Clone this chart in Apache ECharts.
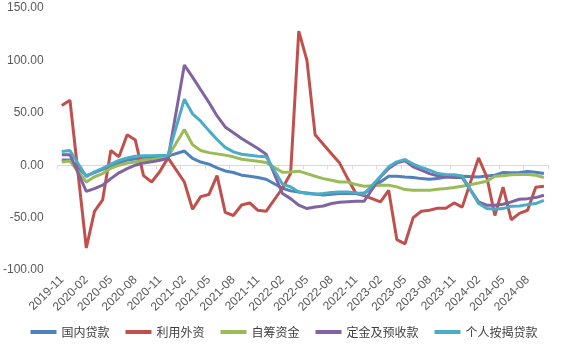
<!DOCTYPE html>
<html>
<head>
<meta charset="utf-8">
<script src="https://cdn.jsdelivr.net/npm/echarts@6/dist/echarts.min.js"></script>
<style>
  html, body { margin: 0; padding: 0; background: #fff; }
  #chart { width: 568px; height: 346px; }
</style>
</head>
<body>
<div id="chart"></div>
<script>
// Monthly categories 2019-11 .. 2024-10 (January is reported together with February, so left empty)
const months = [];
for (let y = 2019, m = 11; months.length < 60; m++) {
  if (m > 12) { m = 1; y++; }
  months.push(y + '-' + String(m).padStart(2, '0'));
}

const domesticLoans = [5, 5, null, -10, -7, -4, -1, 2, 5, 6, 7, 7, 8, 8.6, null, 13.5, 6.5, 3, 1, -2.5, -5.5, -7, -9.5, -10.5, -11.8, -13.4, null, -22, -24.5, -25.5, -26.5, -27.5, -28.5, -27.7, -27, -27, -27, -26.5, null, -16, -10.5, -10.5, -11.2, -11.8, -12.8, -13.4, -12.8, -11.2, -10.5, -10.5, null, -11.2, -10.2, -9.6, -7, -7.3, -7, -6, -6.7, -8];
const foreignCapital = [57, 62, null, -79, -44, -33, 14, 8, 29, 24, -10, -16, -6, 7, null, -16, -42, -30, -28, -10, -45, -48, -38, -36, -43, -44, null, -22, -8, 128, 100, 29, 20, 11, 2, -13, -27, -29, null, -35, -24, -71, -75, -50, -44, -43, -41, -41, -36, -40, null, 7, -11, -48, -21, -52, -46, -43, -21, -20];
const selfRaised = [3, 4, null, -16, -11, -8, -3, 0, 2, 3, 5, 5.5, 6.5, 8, null, 34, 19.5, 14, 12, 10.8, 9.6, 8, 5.7, 4.8, 3.8, 2.6, null, -6.7, -6.4, -5.7, -8, -10.5, -12.8, -14.3, -16, -16, -18.5, -20, null, -19.1, -19.1, -20.7, -23.3, -23.9, -23.9, -23.9, -22.9, -22.3, -21.3, -20, null, -16.9, -15.3, -10.5, -10, -9.2, -8.9, -8.9, -9.6, -11.8];
const deposits = [10, 10, null, -25, -22.3, -19.1, -12.8, -7.3, -3.2, 0, 2.2, 3.2, 4.8, 6.5, null, 95.6, 84, 72, 60, 47, 36.5, 31, 25.5, 20.7, 16, 10.5, null, -27, -31.9, -38.2, -41.4, -39.8, -38.9, -36.6, -35.4, -34.8, -34.4, -34.4, null, -11.2, -3.2, 2.2, 4.1, -1.6, -4.8, -8, -10.2, -11.2, -11.8, -11.8, null, -35, -38.2, -38.2, -37.3, -35, -32.5, -31.9, -30.9, -28.7];
const mortgages = [13, 14, null, -11, -6.4, -3, 1, 4.5, 7, 8.5, 9, 9, 9.3, 9.6, null, 63, 49, 42, 33, 24.5, 17, 12.7, 10.5, 9.6, 8.6, 8, null, -18, -20.7, -25.5, -27, -27.7, -27, -26.1, -25.5, -25.5, -26.5, -27.7, null, -10.5, -1.6, 3.2, 5.4, 1, -2.2, -4.8, -8, -8.9, -9.2, -10.2, null, -36.6, -41.4, -42, -41.4, -39.2, -38.9, -37.6, -36.6, -33.5];

const seriesNames = ['国内贷款', '利用外资', '自筹资金', '定金及预收款', '个人按揭贷款'];
const seriesData = [domesticLoans, foreignCapital, selfRaised, deposits, mortgages];
const colors = ['#4F81BD', '#C0504D', '#9BBB59', '#8064A2', '#4BACC6'];

const yTicks = { min: -100, max: 150, interval: 50 };

const labelFont = 'Liberation Sans, Arial, sans-serif';
const chart = echarts.init(document.getElementById('chart'));
chart.setOption({
  animation: false,
  color: colors,
  grid: { left: 57, right: 20, top: 8, bottom: 76 },
  legend: {
    bottom: 3,
    left: 'center',
    icon: 'rect',
    itemWidth: 26,
    itemHeight: 4,
    itemGap: 16,
    textStyle: { fontFamily: 'Noto Sans CJK SC', fontSize: 12, color: '#404040' },
    data: seriesNames
  },
  xAxis: [
    {
      type: 'category',
      data: months,
      boundaryGap: true,
      axisLine: { onZero: true, lineStyle: { color: '#D9D9D9', width: 1 } },
      axisTick: { show: true, interval: 2, length: 4, lineStyle: { color: '#D9D9D9' } },
      axisLabel: { show: false },
      splitLine: { show: false }
    },
    {
      type: 'category',
      data: months,
      position: 'bottom',
      boundaryGap: true,
      axisLine: { show: false, onZero: false },
      axisTick: { show: false },
      axisLabel: {
        interval: 2,
        rotate: 45,
        margin: 8,
        fontSize: 12,
        fontFamily: labelFont,
        color: '#595959'
      },
      splitLine: { show: false }
    }
  ],
  yAxis: {
    type: 'value',
    min: yTicks.min,
    max: yTicks.max,
    interval: yTicks.interval,
    axisLine: { show: false },
    axisTick: { show: false },
    splitLine: { show: false },
    axisLabel: {
      margin: 14,
      fontSize: 12,
      fontFamily: labelFont,
      color: '#595959',
      formatter: v => v.toFixed(2)
    }
  },
  series: seriesNames.map((name, k) => ({
    name,
    type: 'line',
    xAxisIndex: 0,
    data: seriesData[k],
    connectNulls: true,
    showSymbol: false,
    symbol: 'none',
    lineStyle: { width: 3, color: colors[k] },
    itemStyle: { color: colors[k] }
  }))
});
</script>
</body>
</html>
